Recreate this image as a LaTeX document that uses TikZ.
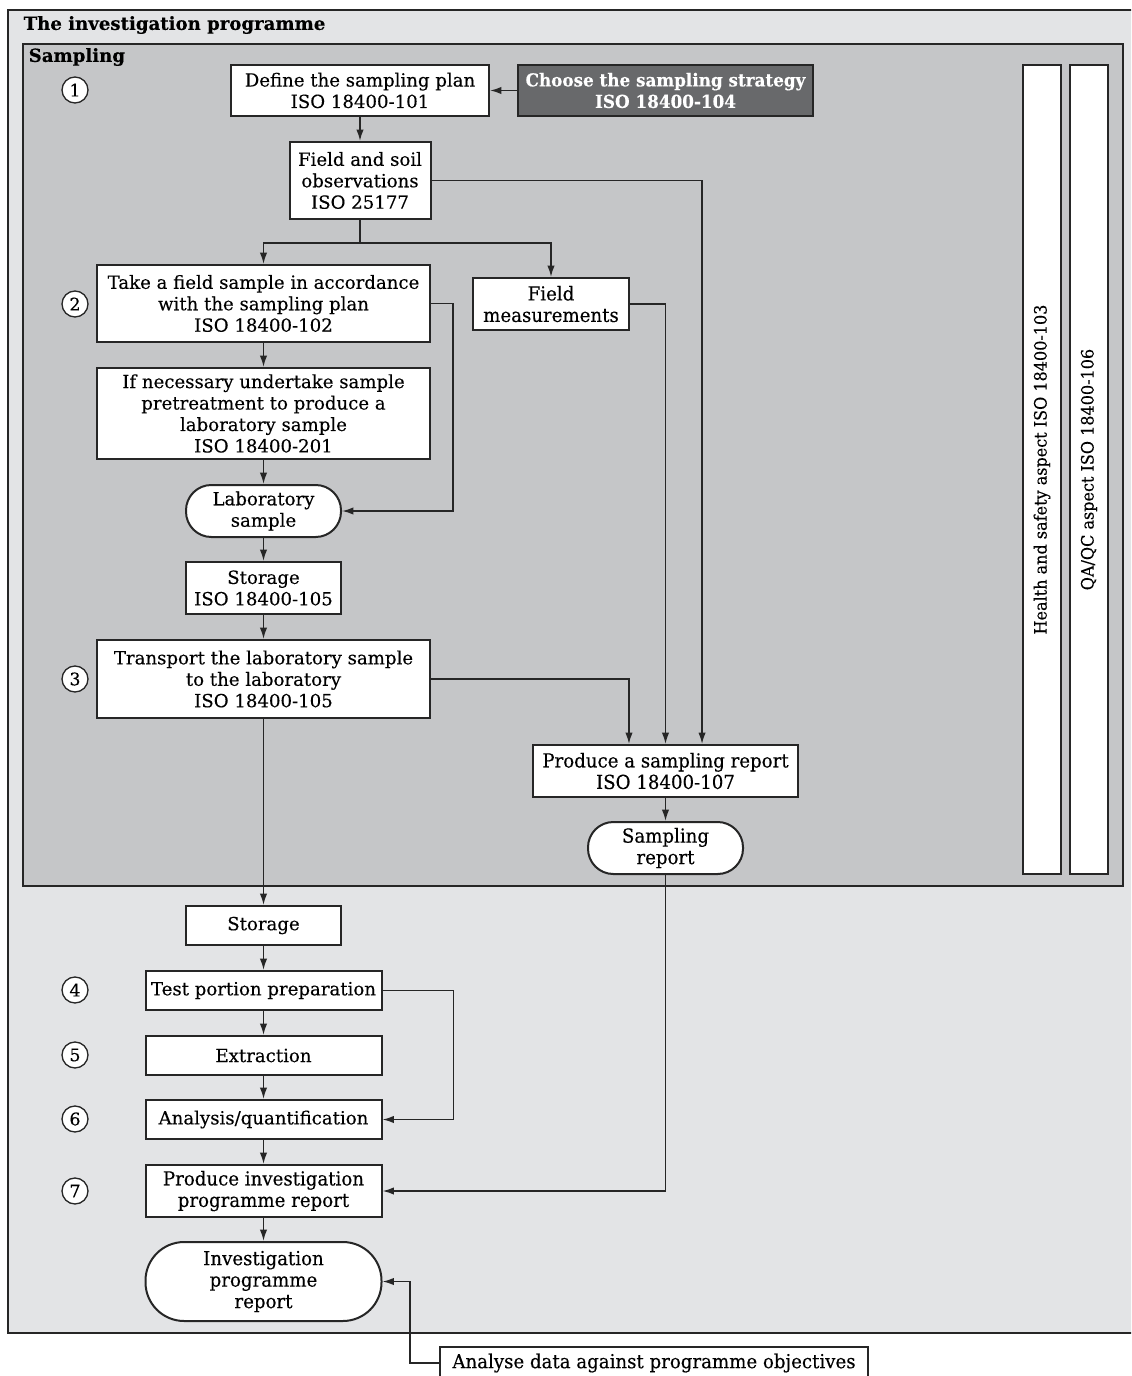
\documentclass[tikz,border=0pt]{standalone}
\usepackage{fontspec}
\setmainfont{DejaVu Serif}[FakeBold=0.25]
\newfontfamily\condfont{DejaVu Serif}[FakeStretch=0.94,FakeBold=0.25]
\usetikzlibrary{arrows.meta}
\definecolor{outerbg}{RGB}{227,228,230}
\definecolor{sampbg}{RGB}{197,198,200}
\definecolor{darkbox}{RGB}{104,105,107}
\definecolor{ln}{RGB}{38,38,38}
\begin{document}
\begin{tikzpicture}[x=0.75pt,y=-0.75pt,
  txt/.style={font=\fontsize{13.6}{16.1}\selectfont},
  ctxt/.style={font=\condfont\fontsize{14.5}{16.1}\selectfont},
  box/.style={draw=ln,line width=1.5pt,fill=white,align=center,inner sep=0pt,text=black},
  stad/.style={box},
  darkb/.style={box,fill=darkbox,text=white},
  bar/.style={box,rotate=90,minimum width=606.75pt,minimum height=28.5pt,font=\condfont\fontsize{12.8}{14}\selectfont},
  num/.style={circle,draw=ln,line width=1pt,fill=white,minimum size=19.5pt,inner sep=0pt,font=\fontsize{13}{13}\selectfont},
  con/.style={draw=ln,line width=1.2pt},
  arr/.style={con,-{Latex[length=8.5pt,width=5.5pt]}},
  frame/.style={draw=ln,line width=1.5pt}
]
\clip (0,0) rectangle (1131,1376);
\useasboundingbox (0,0) rectangle (1131,1376);
\fill[white] (0,0) rectangle (1131,1376);
% frames
\path[frame,fill=outerbg] (8,10) rectangle (1140,1333);
\path[frame,fill=sampbg] (23,44) rectangle (1123,886);
\node[anchor=west,font=\bfseries\fontsize{13.6}{13.6}\selectfont] (ttl) at (19,25) {The investigation programme};
\node[anchor=west,font=\bfseries\fontsize{13.6}{13.6}\selectfont] (stl) at (24,57) {Sampling};
% numbers
\node[num] (n1) at (75,90) {1};
\node[num] (n2) at (75,304) {2};
\node[num] (n3) at (75,679) {3};
\node[num] (n4) at (75,990) {4};
\node[num] (n5) at (75,1055) {5};
\node[num] (n6) at (75,1119) {6};
\node[num] (n7) at (75,1191) {7};
% sampling boxes
\node[box,txt,minimum width=193.5pt,minimum height=38.25pt] (plan) at (360,90.5) {Define the sampling plan\\ISO 18400-101};
\node[darkb,font=\condfont\bfseries\fontsize{13.4}{16.1}\selectfont,minimum width=221.25pt,minimum height=38.25pt] (strat) at (665.5,90.5) {Choose the sampling strategy\\ISO 18400-104};
\node[box,txt,minimum width=105.75pt,minimum height=57.75pt] (fso) at (360,180.5) {Field and soil\\observations\\ISO 25177};
\node[box,txt,minimum width=249.75pt,minimum height=57.75pt] (take) at (263.5,303.5) {Take a field sample in accordance\\with the sampling plan\\ISO 18400-102};
\node[box,ctxt,minimum width=117pt,minimum height=39pt] (fm) at (551,304) {Field\\measurements};
\node[box,txt,minimum width=249.75pt,minimum height=68.25pt] (pre) at (263.5,413.5) {If necessary undertake sample\\pretreatment to produce a\\laboratory sample\\ISO 18400-201};
\node[stad,txt,minimum width=116.25pt,minimum height=39pt,rounded corners=19pt] (lab) at (263.5,511) {Laboratory\\sample};
\node[box,txt,minimum width=116.25pt,minimum height=39pt] (st1) at (263.5,588) {Storage\\ISO 18400-105};
\node[box,txt,minimum width=249.75pt,minimum height=58.5pt] (tra) at (263.5,679) {Transport the laboratory sample\\to the laboratory\\ISO 18400-105};
\node[box,ctxt,minimum width=198.75pt,minimum height=39pt] (rep) at (665.5,771) {Produce a sampling report\\ISO 18400-107};
\node[stad,ctxt,minimum width=116.25pt,minimum height=39pt,rounded corners=19pt] (srep) at (665.5,848) {Sampling\\report};
\node[bar] (hs) at (1042,469.5) {Health and safety aspect ISO 18400-103};
\node[bar] (qa) at (1089,469.5) {QA/QC aspect ISO 18400-106};
% lower boxes
\node[box,txt,minimum width=116.25pt,minimum height=29.25pt] (st2) at (263.5,925.5) {Storage};
\node[box,txt,minimum width=177pt,minimum height=29.25pt] (tpp) at (263.5,990.5) {Test portion preparation};
\node[box,txt,minimum width=177pt,minimum height=29.25pt] (ext) at (263.5,1055.5) {Extraction};
\node[box,txt,minimum width=177pt,minimum height=29.25pt] (ana) at (263.5,1119.5) {Analysis/quantification};
\node[box,ctxt,minimum width=177pt,minimum height=39pt] (ipr) at (263.5,1191) {Produce investigation\\programme report};
\node[stad,ctxt,minimum width=177pt,minimum height=59.25pt,rounded corners=29pt] (inv) at (263.5,1281.5) {Investigation\\programme\\report};
\node[box,ctxt,minimum width=321pt,minimum height=24pt] (ad) at (654,1363) {Analyse data against programme objectives};
% connectors
\draw[arr] (strat) -- (plan);
\draw[arr] (plan) -- (fso);
\draw[arr] (fso.east) -| ([xshift=27.4pt]rep.north);
\draw[con] (fso.south) -- ++(0,23) coordinate (br);
\draw[arr] (br) -| (take.north);
\draw[arr] (br) -| (fm.north);
\draw[arr] (take) -- (pre);
\draw[arr] (take.east) -- ++(22,0) |- (lab.east);
\draw[arr] (fm.east) -| (rep.north);
\draw[arr] (pre) -- (lab);
\draw[arr] (lab) -- (st1);
\draw[arr] (st1) -- (tra);
\draw[arr] (tra.east) -| ([xshift=-27.4pt]rep.north);
\draw[arr] (tra) -- (st2);
\draw[arr] (rep) -- (srep);
\draw[arr] (srep.south) |- (ipr.east);
\draw[arr] (st2) -- (tpp);
\draw[arr] (tpp) -- (ext);
\draw[arr] (ext) -- (ana);
\draw[arr] (tpp.east) -- ++(71,0) |- (ana.east);
\draw[arr] (ana) -- (ipr);
\draw[arr] (ipr) -- (inv);
\draw[arr] (ad.west) -- ++(-29,0) |- (inv.east);
\end{tikzpicture}
\end{document}
